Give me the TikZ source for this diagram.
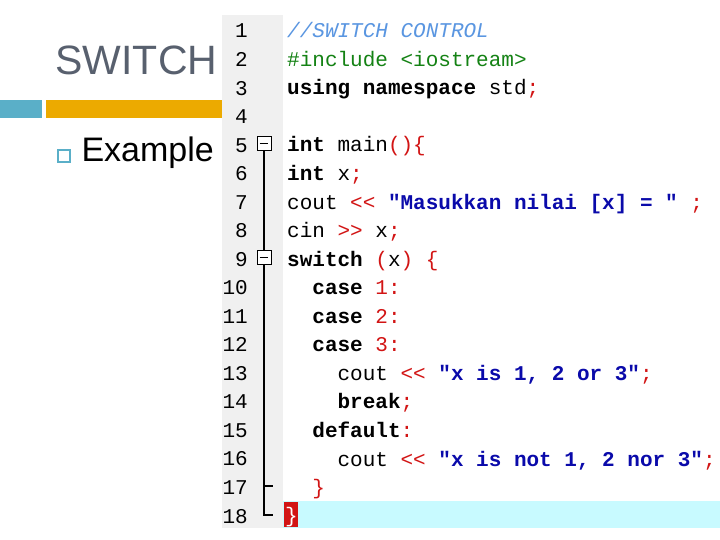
\documentclass[tikz,border=0pt]{standalone}
\usepackage{fontspec}
\setmainfont{Liberation Sans}
\newfontfamily\codefont{Liberation Mono}
\usepackage{tikz}
\usetikzlibrary{positioning}
\definecolor{titlegray}{RGB}{88,96,110}
\definecolor{barteal}{RGB}{90,175,200}
\definecolor{barorange}{RGB}{236,170,0}
\definecolor{gutter}{RGB}{240,240,240}
\definecolor{cmtblue}{RGB}{90,150,225}
\definecolor{incgreen}{RGB}{20,130,20}
\definecolor{strblue}{RGB}{10,10,170}
\definecolor{opred}{RGB}{210,20,20}
\definecolor{curline}{RGB}{200,250,255}
\newcommand{\kw}[1]{\textbf{#1}}
\newcommand{\op}[1]{\textcolor{opred}{#1}}
\newcommand{\str}[1]{\textcolor{strblue}{\textbf{#1}}}
\tikzstyle{codeline} = [anchor=base west, inner sep=0pt, font=\codefont\fontsize{21}{21}\selectfont]
\tikzstyle{lineno} = [anchor=base east, inner sep=0pt, font=\codefont\fontsize{21}{21}\selectfont]
\tikzstyle{foldbox} = [draw=black, line width=0.8pt, fill=white, minimum size=14pt, inner sep=0pt]

\begin{document}
\begin{tikzpicture}[x=1pt, y=-1pt]
            \useasboundingbox (0,0) rectangle (720,540);
            % slide
            \node(title) [anchor=west, text=titlegray, font=\fontsize{41}{41}\selectfont] at (52,60) {SWITCH};
            \fill[barteal] (0,100) rectangle (42,118);
            \fill[barorange] (46,100) rectangle (222,118);
            \node(bullet) [draw=barteal, line width=1.2pt, minimum size=12pt, inner sep=0pt] at (64,156) {};
            \node(example) [anchor=west, font=\fontsize{34}{34}\selectfont] at (78,153) {Example};

            % code panel
            \fill[white] (222,15) rectangle (720,528);
            \fill[gutter] (222,15) rectangle (283,528);
            \fill[curline] (283,501) rectangle (720,528);
            \fill[opred] (284,502) rectangle (298,527);
            \foreach \i in {1,...,18}
                \node(num\i) [lineno] at (248,{38+(\i-1)*28.53}) {\i};

            % folding
            \node(fold5) [foldbox] at (264,143) {};
            \node(fold9) [foldbox] at (264,257) {};
            \draw (fold5.west) ++(3,0) -- ++(8,0);
            \draw (fold9.west) ++(3,0) -- ++(8,0);
            \draw[line width=1.3pt] (fold5.south) -- (fold9.north);
            \draw[line width=1.3pt] (fold9.south) -- (264,515) -- (273,515);
            \draw[line width=1.3pt] (264,486) -- (273,486);

            \node(c1) [codeline, text=cmtblue] at (287,38) {\itshape //SWITCH CONTROL};
            \node(c2) [codeline, text=incgreen] at (287,66.5) {\#include <iostream>};
            \node(c3) [codeline] at (287,95) {\kw{using namespace} std\op{;}};
            \node(c5) [codeline] at (287,152) {\kw{int} main\op{()\{}};
            \node(c6) [codeline] at (287,180.7) {\kw{int} x\op{;}};
            \node(c7) [codeline] at (287,209.2) {cout \op{<<} \str{"Masukkan nilai [x] = "} \op{;}};
            \node(c8) [codeline] at (287,237.7) {cin \op{>>} x\op{;}};
            \node(c9) [codeline] at (287,266.2) {\kw{switch} \op{(}x\op{)} \op{\{}};
            \node(c10) [codeline] at (287,294.8) {\ \ \kw{case} \op{1:}};
            \node(c11) [codeline] at (287,323.3) {\ \ \kw{case} \op{2:}};
            \node(c12) [codeline] at (287,351.8) {\ \ \kw{case} \op{3:}};
            \node(c13) [codeline] at (287,380.4) {\ \ \ \ cout \op{<<} \str{"x is 1, 2 or 3"}\op{;}};
            \node(c14) [codeline] at (287,408.9) {\ \ \ \ \kw{break}\op{;}};
            \node(c15) [codeline] at (287,437.4) {\ \ \kw{default}\op{:}};
            \node(c16) [codeline] at (287,466) {\ \ \ \ cout \op{<<} \str{"x is not 1, 2 nor 3"}\op{;}};
            \node(c17) [codeline] at (287,494.5) {\ \ \op{\}}};
            \node(c18) [codeline, text=white] at (285,522) {\}};
        \end{tikzpicture}
\end{document}
